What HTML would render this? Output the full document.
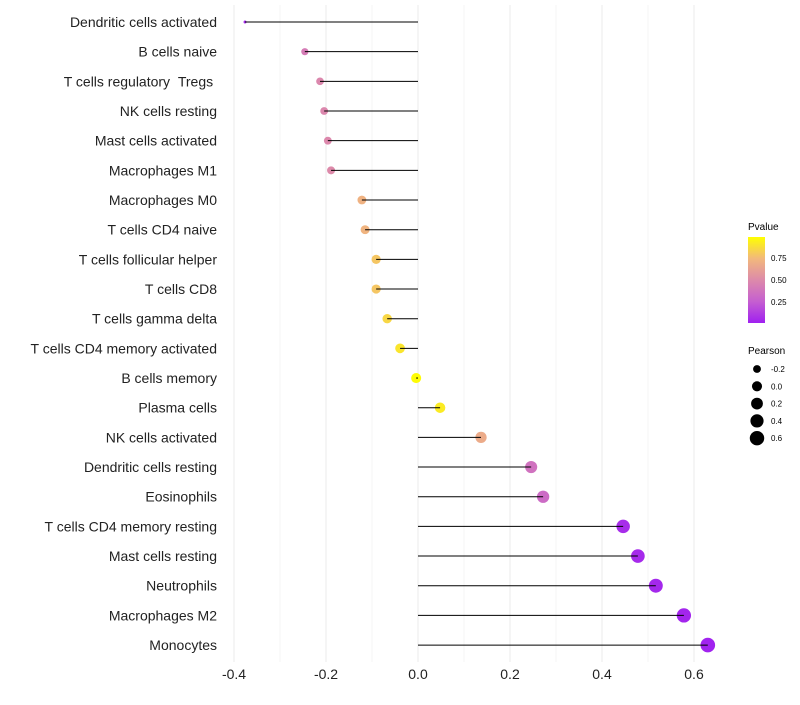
<!DOCTYPE html>
<html><head><meta charset="utf-8"><style>
body{margin:0;background:#fff;font-family:"Liberation Sans",sans-serif}
</style></head><body>
<svg id="c" width="800" height="700" xmlns="http://www.w3.org/2000/svg">
<defs><linearGradient id="g" x1="0" y1="1" x2="0" y2="0">
<stop offset="0" stop-color="#a020f0"/><stop offset="0.25" stop-color="#c55fd0"/><stop offset="0.5" stop-color="#dd8aaa"/><stop offset="0.75" stop-color="#f2b87c"/><stop offset="1" stop-color="#ffff00"/>
</linearGradient></defs>
<g id="grid"></g><g id="marks"></g><g id="labels"></g>
<g font-size="10">
<text x="748" y="230">Pvalue</text>
<rect x="748" y="237" width="17" height="86" fill="url(#g)"/>
<text x="771" y="261" font-size="8">0.75</text><text x="771" y="283" font-size="8">0.50</text><text x="771" y="305" font-size="8">0.25</text>
<text x="748" y="354">Pearson</text>
<g id="sizeleg"></g>
</g>
</svg>
<script>
const cells=["Dendritic cells activated","B cells naive","T cells regulatory\u00a0\u00a0Tregs\u00a0","NK cells resting","Mast cells activated","Macrophages M1","Macrophages M0","T cells CD4 naive","T cells follicular helper","T cells CD8","T cells gamma delta","T cells CD4 memory activated","B cells memory","Plasma cells","NK cells activated","Dendritic cells resting","Eosinophils","T cells CD4 memory resting","Mast cells resting","Neutrophils","Macrophages M2","Monocytes"];
const pearson=[-0.376,-0.246,-0.213,-0.204,-0.196,-0.189,-0.122,-0.115,-0.091,-0.091,-0.067,-0.039,-0.004,0.048,0.137,0.246,0.272,0.446,0.478,0.517,0.578,0.630];
const pvalue=[0.03,0.42,0.48,0.48,0.49,0.5,0.72,0.73,0.8,0.8,0.86,0.91,0.99,0.93,0.68,0.36,0.32,0.05,0.04,0.03,0.02,0.01];
const xticks=[-0.4,-0.2,0.0,0.2,0.4,0.6];
const xtickLabels=["-0.4","-0.2","0.0","0.2","0.4","0.6"];
const sizeLeg=[-0.2,0.0,0.2,0.4,0.6];
const NS="http://www.w3.org/2000/svg";
const X=v=>418+v*460, Y=i=>22+i*29.67;
const vmin=Math.min(...pearson), vmax=Math.max(...pearson);
const R=v=>1.5+5.8*Math.sqrt(Math.max(0,(v-vmin)/(vmax-vmin)));
const stops=[[0,[160,32,240]],[0.25,[197,95,208]],[0.5,[221,138,170]],[0.75,[242,184,124]],[1,[255,255,0]]];
function col(p){for(let i=1;i<stops.length;i++){if(p<=stops[i][0]){const a=stops[i-1],b=stops[i],t=(p-a[0])/(b[0]-a[0]);return "rgb("+a[1].map((c,k)=>Math.round(c+(b[1][k]-c)*t)).join(",")+")";}}return "rgb(255,255,0)";}
function mk(t,a,p){const e=document.createElementNS(NS,t);for(const k in a)e.setAttribute(k,a[k]);p.appendChild(e);return e;}
const grid=document.getElementById('grid'),marks=document.getElementById('marks'),labels=document.getElementById('labels');
for(let k=-4;k<=6;k++){const v=k/10;const l=mk('line',{x1:X(v),x2:X(v),y1:5,y2:662,stroke:k%2===0?'#ebebeb':'#f4f4f4','stroke-width':1},grid);

}
xticks.forEach((v,i)=>{const t=mk('text',{x:X(v),y:679,'text-anchor':'middle','font-size':14,fill:'#222'},labels);t.textContent=xtickLabels[i];

});
cells.forEach((c,i)=>{const y=Y(i);
const t=mk('text',{x:217,y:y+5,'text-anchor':'end','font-size':14,fill:'#222'},labels);t.textContent=c;


const d=mk('circle',{cx:X(pearson[i]),cy:y,r:R(pearson[i]),fill:col(pvalue[i])},marks);


const l=mk('line',{x1:X(0),x2:X(pearson[i]),y1:y,y2:y,stroke:'#000','stroke-width':1},marks);

});
const sl=document.getElementById('sizeleg');
sizeLeg.forEach((v,i)=>{const y=369+i*17.3;
const c=mk('circle',{cx:757,cy:y,r:R(v),fill:'#000'},sl);


const t=mk('text',{x:771,y:y+3,'font-size':8},sl);t.textContent=v.toFixed(1).replace('-0.0','0.0');

});
</script>
</body></html>
